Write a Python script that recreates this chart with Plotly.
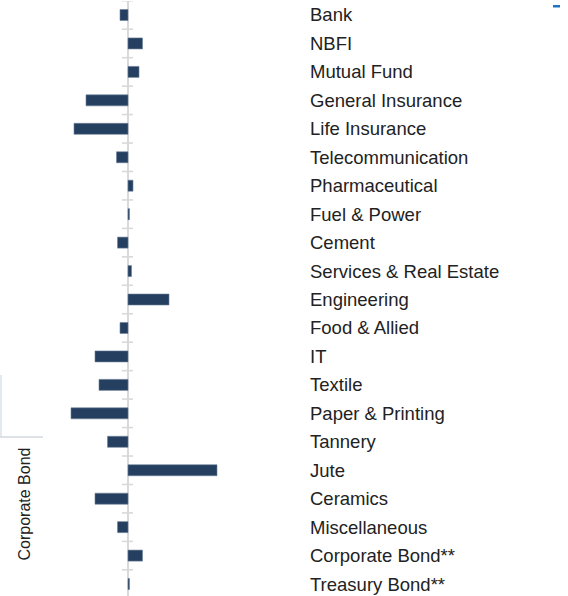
import plotly.graph_objects as go

W, H = 568, 596

categories = [
    "Bank", "NBFI", "Mutual Fund", "General Insurance", "Life Insurance",
    "Telecommunication", "Pharmaceutical", "Fuel & Power", "Cement",
    "Services & Real Estate", "Engineering", "Food & Allied", "IT", "Textile",
    "Paper & Printing", "Tannery", "Jute", "Ceramics", "Miscellaneous",
    "Corporate Bond**", "Treasury Bond**",
]
values = [
    -0.8, 1.45, 1.1, -4.2, -5.4, -1.15, 0.5, 0.15, -1.05, 0.35, 4.1,
    -0.8, -3.3, -2.9, -5.7, -2.05, 8.9, -3.3, -1.05, 1.45, 0.15,
]
side_label = "Corporate Bond"

BAR = "#243f60"
GRID = "#d9d9d9"

def px_x(p):
    return p / W

def px_y(p):
    return (H - p) / H

fig = go.Figure(
    go.Bar(
        x=values,
        y=categories,
        orientation="h",
        marker=dict(color=BAR, line=dict(color="#6f829a", width=0.6)),
        hoverinfo="x+y",
    )
)

n = len(categories)
shapes = []
for i in range(n + 1):
    shapes.append(dict(
        type="line", xref="x", yref="y", x0=-0.6, x1=0.5,
        y0=i - 0.5, y1=i - 0.5, line=dict(color=GRID, width=1.6), layer="below",
    ))
# bracket lines at left
shapes.append(dict(type="line", xref="paper", yref="paper",
                   x0=px_x(1), x1=px_x(1), y0=px_y(375), y1=px_y(437),
                   line=dict(color="#d3dae3", width=1.2)))
shapes.append(dict(type="line", xref="paper", yref="paper",
                   x0=px_x(0), x1=px_x(43), y0=px_y(437), y1=px_y(437),
                   line=dict(color="#d3d7dc", width=1.6)))
# small blue dash top-right
shapes.append(dict(type="rect", xref="paper", yref="paper",
                   x0=px_x(553), x1=px_x(560), y0=px_y(7.5), y1=px_y(5),
                   fillcolor="#1f73c0", line=dict(width=0)))

fig.update_layout(
    width=W, height=H,
    margin=dict(l=0, r=0, t=0, b=0),
    paper_bgcolor="white", plot_bgcolor="white",
    showlegend=False,
    bargap=0.613,
    font=dict(family="Liberation Sans, Arial, sans-serif", color="#222222"),
    xaxis=dict(
        domain=[px_x(44), px_x(305)],
        range=[-8.4, 17.7],
        showgrid=False, showticklabels=False, ticks="",
        zeroline=True, zerolinecolor=GRID, zerolinewidth=2,
        showline=False, fixedrange=True,
    ),
    yaxis=dict(
        domain=[0, px_y(1)],
        range=[20.42, -0.492],
        side="right",
        ticks="",
        ticklabelstandoff=4,
        showgrid=False, zeroline=False, showline=False,
        tickfont=dict(size=18.5, color="#222222"),
        automargin=False,
        fixedrange=True,
    ),
    shapes=shapes,
    annotations=[dict(
        text=side_label, xref="paper", yref="paper",
        x=px_x(24), y=px_y(504.5), textangle=-90, showarrow=False,
        font=dict(size=16, color="#222222"), xanchor="center", yanchor="middle",
    )],
)

fig.write_html(
    "out.html",
    config={"displayModeBar": False},
    post_script="document.body.style.margin='0';document.body.style.overflow='hidden';",
)
